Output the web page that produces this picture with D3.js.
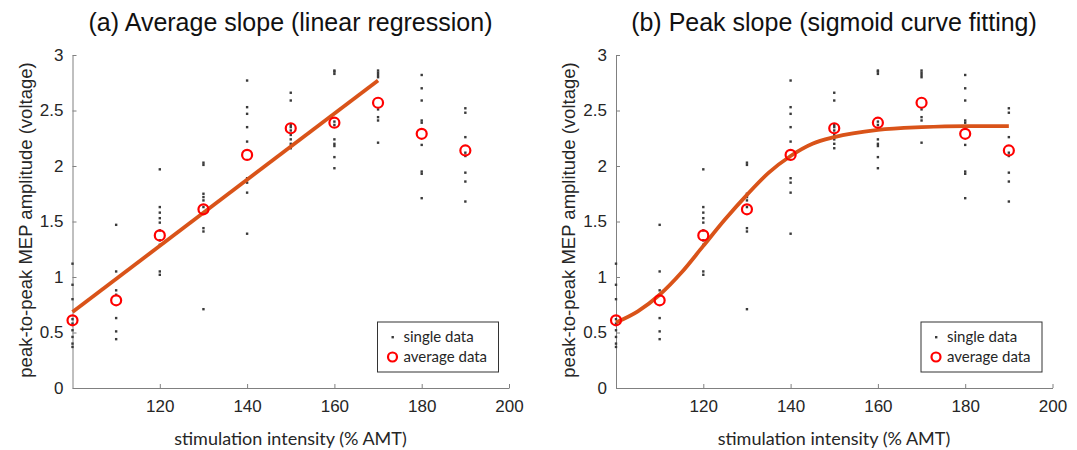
<!DOCTYPE html>
<html>
<head>
<meta charset="utf-8">
<script src="https://cdn.jsdelivr.net/npm/d3@7"></script>
<style>
  body { margin: 0; background: #fff; }
  svg { display: block; }
</style>
</head>
<body>
<div id="chart"></div>
<script>
// stimulation intensities (% AMT)
var intensity = [100, 110, 120, 130, 140, 150, 160, 170, 180, 190];

// average MEP amplitude per intensity
var average = [0.61, 0.79, 1.375, 1.61, 2.10, 2.34, 2.39, 2.57, 2.29, 2.14];

// single trials per intensity
var single = [
  [1.12, 0.93, 0.80, 0.62, 0.58, 0.52, 0.46, 0.40, 0.37],
  [1.47, 1.05, 0.88, 0.84, 0.63, 0.51, 0.44],
  [1.97, 1.63, 1.58, 1.53, 1.49, 1.42, 1.33, 1.29, 1.05, 1.02],
  [2.03, 2.01, 1.75, 1.72, 1.69, 1.63, 1.44, 1.41, 0.71],
  [2.77, 2.53, 2.47, 2.35, 2.22, 1.89, 1.85, 1.76, 1.39],
  [2.66, 2.59, 2.37, 2.35, 2.32, 2.28, 2.24, 2.20, 2.16],
  [2.86, 2.85, 2.83, 2.40, 2.37, 2.24, 2.20, 2.18, 2.08, 1.98],
  [2.86, 2.84, 2.82, 2.80, 2.51, 2.44, 2.41, 2.21],
  [2.82, 2.70, 2.59, 2.41, 2.39, 2.19, 1.95, 1.93, 1.71],
  [2.52, 2.48, 2.26, 2.12, 2.09, 1.94, 1.86, 1.68]
];

// linear regression line (read at its two ends)
var regX = [100, 170];
var regY = [0.685, 2.77];

// sigmoid fit
var sigX = [100, 105, 110, 115, 120, 125, 130, 135, 140, 145, 150, 160, 170, 180, 190];
var sigY = [0.59, 0.69, 0.84, 1.04, 1.28, 1.52, 1.74, 1.94, 2.09, 2.20, 2.26, 2.325, 2.35, 2.36, 2.36];

var xTicks = [120, 140, 160, 180, 200];
var yTicks = [0, 0.5, 1, 1.5, 2, 2.5, 3];

var titles = ["(a) Average slope (linear regression)", "(b) Peak slope (sigmoid curve fitting)"];

var w = 1077, h = 450;
var svg = d3.select("#chart").append("svg")
    .attr("width", w)
    .attr("height", h);

var lineColor = "#d95319",
    axisColor = "#808080",
    textColor = "#262626";

function drawPanel(left, title, fitX, fitY, curve) {
  var x = d3.scaleLinear().domain([100, 200]).range([left, left + 436.5]);
  var y = d3.scaleLinear().domain([0, 3]).range([388, 55]);

  var g = svg.append("g");

  // axes: only left and bottom, ticks point inward
  var xAxis = g.append("g")
      .attr("transform", "translate(0,388)")
      .call(d3.axisBottom(x).tickValues(xTicks).tickSizeInner(-4).tickSizeOuter(0).tickPadding(12));
  var yAxis = g.append("g")
      .attr("transform", "translate(" + left + ",0)")
      .call(d3.axisLeft(y).tickValues(yTicks).tickSizeInner(-4).tickSizeOuter(0).tickPadding(9)
        .tickFormat(d3.format("")));

  [xAxis, yAxis].forEach(function(a) {
    a.select(".domain").attr("stroke", axisColor);
    a.selectAll(".tick line").attr("stroke", axisColor);
    a.selectAll(".tick text")
      .attr("fill", textColor)
      .style("font-family", "'Liberation Sans', Arial, sans-serif")
      .style("font-size", "17px");
  });

  // single data
  var pts = [];
  intensity.forEach(function(d, i) {
    single[i].forEach(function(v) { pts.push({ x: d, y: v }); });
  });
  g.selectAll("rect.single")
    .data(pts)
    .enter().append("rect")
    .attr("class", "single")
    .attr("x", function(d) { return x(d.x) - 1.2; })
    .attr("y", function(d) { return y(d.y) - 1.2; })
    .attr("width", 2.4)
    .attr("height", 2.4)
    .attr("fill", "#3a3a3a");

  // fitted line
  var line = d3.line()
      .x(function(d) { return x(d[0]); })
      .y(function(d) { return y(d[1]); })
      .curve(curve);
  g.append("path")
    .datum(d3.zip(fitX, fitY))
    .attr("d", line)
    .attr("fill", "none")
    .attr("stroke", lineColor)
    .attr("stroke-width", 3.8);

  // average data
  g.selectAll("circle.avg")
    .data(d3.zip(intensity, average))
    .enter().append("circle")
    .attr("class", "avg")
    .attr("cx", function(d) { return x(d[0]); })
    .attr("cy", function(d) { return y(d[1]); })
    .attr("r", 5)
    .attr("fill", "none")
    .attr("stroke", "#ff0000")
    .attr("stroke-width", 2.2);

  // title
  g.append("text")
    .attr("x", left + 218)
    .attr("y", 31)
    .attr("text-anchor", "middle")
    .attr("fill", "#111")
    .style("font-family", "'Liberation Sans', Arial, sans-serif")
    .style("font-size", "25px")
    .text(title);

  // axis labels
  g.append("text")
    .attr("x", left + 218)
    .attr("y", 445)
    .attr("text-anchor", "middle")
    .attr("fill", textColor)
    .style("font-family", "Lato, sans-serif")
    .style("font-size", "18px")
    .text("stimulation intensity (% AMT)");

  g.append("text")
    .attr("transform", "translate(" + (left - 41) + ",220) rotate(-90)")
    .attr("text-anchor", "middle")
    .attr("fill", textColor)
    .style("font-family", "'Liberation Sans', Arial, sans-serif")
    .style("font-size", "18.5px")
    .text("peak-to-peak MEP amplitude (voltage)");

  // legend
  var lg = g.append("g").attr("transform", "translate(" + (left + 305) + ",322)");
  lg.append("rect")
    .attr("width", 121)
    .attr("height", 50)
    .attr("fill", "#fff")
    .attr("stroke", "#333")
    .attr("stroke-width", 1);
  lg.append("rect")
    .attr("x", 14).attr("y", 14)
    .attr("width", 2.4).attr("height", 2.4)
    .attr("fill", "#3a3a3a");
  lg.append("circle")
    .attr("cx", 15).attr("cy", 35)
    .attr("r", 4.5)
    .attr("fill", "none")
    .attr("stroke", "#ff0000")
    .attr("stroke-width", 2.2);
  lg.selectAll("text")
    .data(["single data", "average data"])
    .enter().append("text")
    .attr("x", 26)
    .attr("y", function(d, i) { return 20 + i * 20; })
    .attr("fill", textColor)
    .style("font-family", "Lato, sans-serif")
    .style("font-size", "15px")
    .text(function(d) { return d; });
}

drawPanel(72.5, titles[0], regX, regY, d3.curveLinear);
drawPanel(616, titles[1], sigX, sigY, d3.curveMonotoneX);
</script>
</body>
</html>
